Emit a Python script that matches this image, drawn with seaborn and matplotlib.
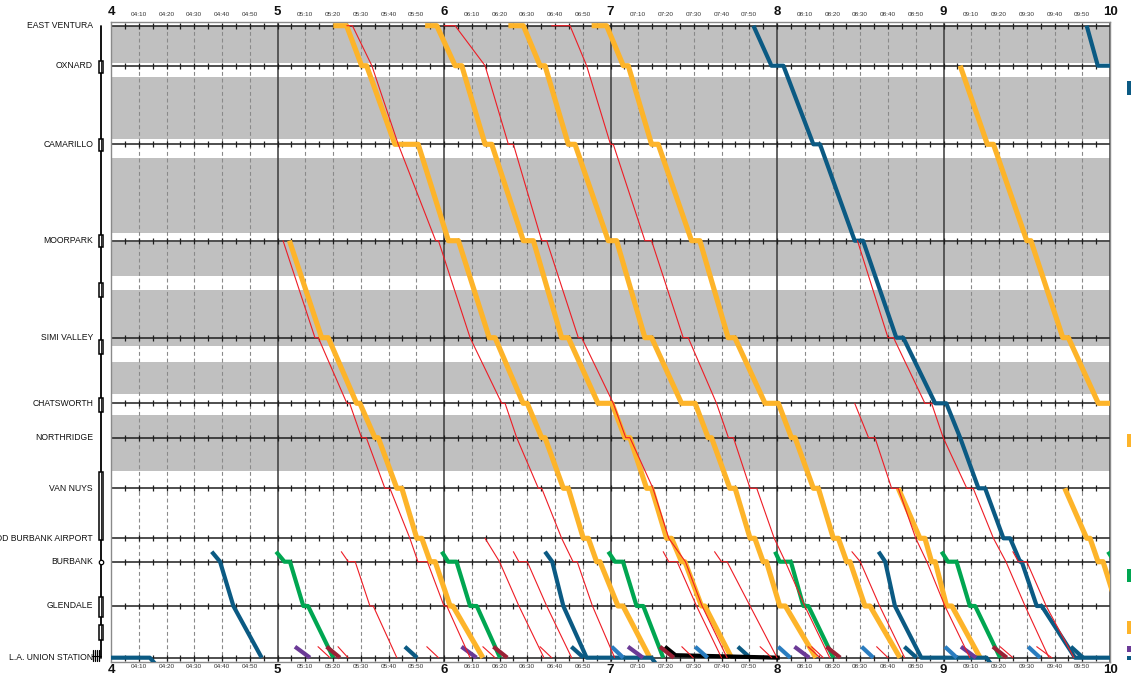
import matplotlib
matplotlib.use("Agg")
import matplotlib.pyplot as plt
import matplotlib.transforms as mtransforms
from matplotlib.patches import Rectangle
import seaborn as sns
import pandas as pd
import numpy as np

# ---------------- data ----------------
station_names = ["EAST VENTURA", "OXNARD", "CAMARILLO", "MOORPARK", "SIMI VALLEY",
                 "CHATSWORTH", "NORTHRIDGE", "VAN NUYS", "HOLLYWOOD BURBANK AIRPORT",
                 "BURBANK", "GLENDALE", "L.A. UNION STATION"]
station_codes = ["EV", "OX", "CA", "MP", "SV", "CH", "NR", "VN", "BA", "BU", "GL", "LA"]
station_miles = [63.2, 59.2, 51.34, 41.7, 32.0, 25.44, 22.0, 16.94, 11.94, 9.6, 5.17, 0.0]
junction_codes = ["BJ", "LJ", "LP", "LS"]
junction_miles = [10.6, 1.1, 0.25, -0.8]

shade_bands = [(59.47, 63.13), (51.87, 58.07), (42.47, 49.97), (38.2, 41.53),
               (31.13, 36.73), (26.37, 29.57), (18.63, 24.3)]
siding_bands = [(58.47, 59.67), (50.67, 51.87), (41.07, 42.27), (36.07, 37.47),
                (30.37, 31.77), (24.57, 25.97), (11.77, 18.57), (4.07, 6.07), (1.77, 3.27)]

hour_ticks = [4, 5, 6, 7, 8, 9, 10]

# orange trains
orange_a = [("MP", "5:04.3"), ("SV", "5:15.9"), ("SV", "5:18.3"), ("CH", "5:28.5"), ("CH", "5:29.7"),
            ("NR", "5:35.1"), ("NR", "5:36.3"), ("VN", "5:43.0"), ("VN", "5:44.8"), ("BA", "5:50.2"),
            ("BA", "5:52.0"), ("BU", "5:55.0"), ("BU", "5:56.8"), ("GL", "6:02.2"), ("GL", "6:03.2"),
            ("LA", "6:14.0")]
orange_b = [("EV", "5:20.1"), ("EV", "5:24.9"), ("OX", "5:30.3"), ("OX", "5:32.1"), ("CA", "5:42.3"),
            ("CA", "5:50.7"), ("MP", "6:01.6"), ("MP", "6:05.2"), ("SV", "6:16.3"), ("SV", "6:18.4"),
            ("CH", "6:28.5"), ("CH", "6:30.0"), ("NR", "6:35.2"), ("NR", "6:36.4"), ("VN", "6:43.0"),
            ("VN", "6:44.8"), ("BA", "6:50.2"), ("BA", "6:52.0"), ("BU", "6:55.0"), ("BU", "6:56.2"),
            ("GL", "7:02.7"), ("GL", "7:04.5"), ("LA", "7:14.2")]
orange_c = [("EV", "5:53.2"), ("EV", "5:57.4"), ("OX", "6:04.0"), ("OX", "6:06.4"), ("CA", "6:14.8"),
            ("CA", "6:17.2"), ("MP", "6:28.6"), ("MP", "6:32.2"), ("SV", "6:42.4"), ("SV", "6:44.8"),
            ("CH", "6:55.5"), ("CH", "7:00.5"), ("NR", "7:05.2"), ("NR", "7:07.0"), ("VN", "7:13.0"),
            ("VN", "7:14.8"), ("BA", "7:20.2"), ("BA", "7:22.0"), ("BU", "7:25.6"), ("BU", "7:26.8"),
            ("GL", "7:32.8"), ("GL", "7:34.0"), ("LA", "7:43.6")]
orange_d = [("EV", "6:23.2"), ("EV", "6:28.6"), ("OX", "6:34.6"), ("OX", "6:36.4"), ("CA", "6:44.8"),
            ("CA", "6:47.2"), ("MP", "6:59.2"), ("MP", "7:02.2"), ("SV", "7:12.4"), ("SV", "7:14.8"),
            ("CH", "7:25.6"), ("CH", "7:30.5"), ("NR", "7:35.2"), ("NR", "7:36.4"), ("VN", "7:43.0"),
            ("VN", "7:44.9"), ("BA", "7:50.3"), ("BA", "7:52.0"), ("BU", "7:55.0"), ("BU", "7:56.2"),
            ("GL", "8:01.0"), ("GL", "8:03.0"), ("LA", "8:14.0")]
orange_e = [("EV", "6:53.2"), ("EV", "6:58.6"), ("OX", "7:04.6"), ("OX", "7:06.4"), ("CA", "7:14.8"),
            ("CA", "7:17.2"), ("MP", "7:29.2"), ("MP", "7:32.2"), ("SV", "7:42.4"), ("SV", "7:44.8"),
            ("CH", "7:55.7"), ("CH", "8:00.5"), ("NR", "8:05.2"), ("NR", "8:06.5"), ("VN", "8:13.1"),
            ("VN", "8:14.9"), ("BA", "8:20.3"), ("BA", "8:22.1"), ("BU", "8:25.1"), ("BU", "8:26.3"),
            ("GL", "8:31.7"), ("GL", "8:33.5"), ("LA", "8:44.3")]
orange_f = [("VN", "8:43.7"), ("BA", "8:51.5"), ("BA", "8:53.3"), ("BU", "8:55.7"), ("BU", "8:57.0"),
            ("GL", "9:01.1"), ("GL", "9:03.0"), ("LA", "9:13.2")]
orange_g = [("VN", "9:43.7"), ("BA", "9:51.6"), ("BA", "9:52.8"), ("BU", "9:55.7"), ("BU", "9:57.5"),
            ("GL", "10:02.5"), ("GL", "10:04.0"), ("LA", "10:14.0")]
orange_h = [("OX", "9:06.0"), ("CA", "9:15.8"), ("CA", "9:18.0"), ("MP", "9:30.0"), ("MP", "9:31.5"),
            ("SV", "9:43.0"), ("SV", "9:45.0"), ("CH", "9:55.8"), ("CH", "10:02.0"), ("NR", "10:07.0")]

# dark blue trains
navy_a = [("LA", "4:00.0"), ("LA", "4:14.0"), ("LS", "4:16.5")]
navy_b = [("BJ", "4:36.3"), ("BU", "4:39.3"), ("GL", "4:44.1"), ("LA", "4:54.3")]
navy_c = [("BJ", "6:36.4"), ("BU", "6:39.0"), ("GL", "6:43.0"), ("LA", "6:51.4"), ("LA", "7:14.8"),
          ("LS", "7:16.8")]
navy_d = [("EV", "7:51.5"), ("OX", "7:58.0"), ("OX", "8:02.3"), ("CA", "8:13.1"), ("CA", "8:15.5"),
          ("MP", "8:28.0"), ("MP", "8:31.0"), ("SV", "8:43.0"), ("SV", "8:45.5"), ("CH", "8:57.0"),
          ("CH", "9:01.0"), ("NR", "9:06.0"), ("VN", "9:12.6"), ("VN", "9:15.0"), ("BA", "9:21.6"),
          ("BA", "9:24.0"), ("BU", "9:27.6"), ("BU", "9:28.2"), ("GL", "9:33.6"), ("GL", "9:35.4"),
          ("LA", "9:47.4"), ("LA", "10:05.0")]
navy_e = [("BJ", "8:36.6"), ("BU", "8:39.0"), ("GL", "8:42.5"), ("LA", "8:52.0"), ("LA", "9:15.5"),
          ("LS", "9:17.5")]
navy_f = [("EV", "9:51.6"), ("OX", "9:55.6"), ("OX", "10:02.0")]
navy_s5 = [("LJ", "5:45.9"), ("LA", "5:50.3")]
navy_s6 = [("LJ", "6:45.9"), ("LA", "6:50.3")]
navy_s7 = [("LJ", "7:45.9"), ("LA", "7:50.3")]
navy_s8 = [("LJ", "8:45.9"), ("LA", "8:50.3")]
navy_s9 = [("LJ", "9:45.9"), ("LA", "9:50.3")]

# green trains
green_a = [("BJ", "4:59.5"), ("BU", "5:02.5"), ("BU", "5:04.5"), ("GL", "5:09.3"), ("GL", "5:11.0"), ("LA", "5:20.1")]
green_b = [("BJ", "5:59.2"), ("BU", "6:01.5"), ("BU", "6:04.5"), ("GL", "6:09.4"), ("GL", "6:11.8"), ("LA", "6:20.2")]
green_c = [("BJ", "6:59.2"), ("BU", "7:01.6"), ("BU", "7:04.5"), ("GL", "7:09.4"), ("GL", "7:11.8"), ("LA", "7:19.0")]
green_d = [("BJ", "7:59.3"), ("BU", "8:01.0"), ("BU", "8:05.0"), ("GL", "8:09.5"), ("GL", "8:11.3"), ("LA", "8:20.3")]
green_e = [("BJ", "8:59.3"), ("BU", "9:01.6"), ("BU", "9:04.7"), ("GL", "9:09.5"), ("GL", "9:11.4"), ("LA", "9:20.4")]
green_f = [("BJ", "9:59.3"), ("BU", "10:01.6")]

# short approaches into Union Station (start, arrival)
purple_trips = [("5:06.3", "5:11.7"), ("6:06.3", "6:11.7"), ("7:06.3", "7:11.7"), ("8:06.3", "8:11.6"), ("9:06.3", "9:11.7")]
maroon_trips = [("5:17.7", "5:22.5"), ("6:17.8", "6:22.8"), ("7:17.8", "7:22.8"), ("8:17.8", "8:22.8"), ("9:17.8", "9:22.8")]
lightblue_trips = [("7:00.4", "7:04.6"), ("7:30.5", "7:35.0"), ("8:00.4", "8:04.8"), ("8:30.5", "8:34.7"),
                   ("9:00.5", "9:04.8"), ("9:30.5", "9:34.8")]
red_short_trips = [("5:14.6", "5:18.9"), ("5:21.8", "5:25.4"), ("5:53.8", "5:58.0"), ("6:14.0", "6:18.4"),
                   ("6:34.6", "6:38.8"), ("7:25.7", "7:29.8"), ("7:53.9", "7:58.1"), ("8:11.2", "8:15.5"),
                   ("8:12.5", "8:16.7"), ("8:35.9", "8:40.0"), ("9:20.4", "9:25.0"), ("9:33.6", "9:39.0")]
black_a = [("LJ", "7:19.6"), ("LP", "7:23.4"), ("LA", "8:01.0")]

# red (thin) trains
red_a = [("MP", "5:02.0"), ("SV", "5:13.5"), ("SV", "5:14.7"), ("CH", "5:25.0"), ("CH", "5:26.0"),
         ("NR", "5:30.3"), ("NR", "5:32.0"), ("VN", "5:38.7"), ("VN", "5:40.5"), ("BA", "5:47.7"),
         ("BU", "5:50.6"), ("BU", "5:54.0"), ("GL", "6:00.0"), ("GL", "6:01.0"), ("LA", "6:09.4")]
red_b = [("EV", "5:25.0"), ("EV", "5:27.0"), ("OX", "5:34.0"), ("CA", "5:43.5"), ("MP", "5:57.0"),
         ("MP", "5:58.0"), ("SV", "6:09.4"), ("CH", "6:20.8"), ("CH", "6:22.0"), ("NR", "6:26.2"),
         ("VN", "6:34.0"), ("VN", "6:35.2"), ("BA", "6:42.4"), ("BU", "6:46.5"), ("BU", "6:48.0"),
         ("GL", "6:53.5"), ("LA", "7:01.5")]
red_c = [("EV", "6:00.0"), ("EV", "6:04.0"), ("OX", "6:14.8"), ("CA", "6:23.2"), ("CA", "6:25.0"),
         ("MP", "6:35.2"), ("MP", "6:37.0"), ("SV", "6:48.4"), ("SV", "6:49.6"), ("CH", "7:01.0"),
         ("NR", "7:05.5"), ("NR", "7:07.0"), ("VN", "7:15.3"), ("BA", "7:21.0"), ("BU", "7:27.0"),
         ("GL", "7:33.0"), ("LA", "7:42.0")]
red_d = [("EV", "6:38.8"), ("EV", "6:45.4"), ("OX", "6:51.4"), ("CA", "7:00.0"), ("CA", "7:01.0"),
         ("MP", "7:12.4"), ("MP", "7:14.8"), ("SV", "7:26.2"), ("SV", "7:28.0"), ("CH", "7:38.2"),
         ("NR", "7:42.5"), ("NR", "7:44.3"), ("VN", "7:50.3"), ("VN", "7:52.7"), ("BA", "7:59.0"),
         ("BU", "8:03.0"), ("GL", "8:10.0"), ("LA", "8:19.0")]
red_e = [("CH", "8:28.0"), ("NR", "8:33.0"), ("NR", "8:35.3"), ("VN", "8:41.3"), ("VN", "8:43.7"),
         ("BA", "8:50.0"), ("BU", "8:54.0"), ("GL", "9:00.5"), ("LA", "9:09.5")]
red_f = [("MP", "8:29.0"), ("SV", "8:40.0"), ("SV", "8:42.0"), ("CH", "8:53.3"), ("CH", "8:55.7"),
         ("NR", "8:59.9"), ("VN", "9:08.4"), ("VN", "9:10.7"), ("BA", "9:18.0"), ("BU", "9:22.5"),
         ("GL", "9:29.4"), ("LA", "9:38.0")]
red_g = [("BJ", "5:23.0"), ("BU", "5:25.5"), ("BU", "5:28.0"), ("GL", "5:33.3"), ("GL", "5:34.5"), ("LA", "5:43.0")]
red_h = [("BA", "6:14.8"), ("BU", "6:20.0"), ("GL", "6:27.0"), ("LA", "6:36.0")]
red_i = [("BJ", "6:25.0"), ("BU", "6:27.0"), ("BU", "6:30.0"), ("GL", "6:37.0"), ("LA", "6:46.0")]
red_j = [("BJ", "7:19.0"), ("BU", "7:21.0"), ("BU", "7:24.0"), ("GL", "7:31.0"), ("LA", "7:40.0")]
red_k = [("BJ", "7:37.5"), ("BU", "7:40.0"), ("BU", "7:42.0"), ("GL", "7:50.3"), ("LA", "8:00.0")]
red_l = [("BJ", "8:27.0"), ("BU", "8:30.0"), ("GL", "8:37.0"), ("LA", "8:46.0")]
red_m = [("BJ", "9:25.0"), ("BU", "9:27.0"), ("BU", "9:30.0"), ("GL", "9:37.0"), ("LA", "9:47.0")]

service_trains = {
    "orange": [orange_a, orange_b, orange_c, orange_d, orange_e, orange_f, orange_g, orange_h],
    "navy": [navy_a, navy_b, navy_c, navy_d, navy_e, navy_f, navy_s5, navy_s6, navy_s7, navy_s8, navy_s9],
    "green": [green_a, green_b, green_c, green_d, green_e, green_f],
    "black": [black_a],
    "red": [red_a, red_b, red_c, red_d, red_e, red_f, red_g, red_h, red_i, red_j, red_k, red_l, red_m],
}
short_trips = {"purple": purple_trips, "maroon": maroon_trips, "lightblue": lightblue_trips,
               "red": red_short_trips}

palette = {"orange": "#FDB42A", "navy": "#0B5A83", "green": "#00A651", "black": "#000000",
           "purple": "#6B3A97", "maroon": "#9A2236", "lightblue": "#2A7DC0", "red": "#EE1C25"}
widths = {"orange": 3.7, "navy": 3.0, "green": 3.0, "black": 3.0, "purple": 3.0, "maroon": 3.0,
          "lightblue": 3.0, "red": 0.8}

# ---------------- build table ----------------
pos = dict(zip(station_codes, station_miles))
pos.update(dict(zip(junction_codes, junction_miles)))


def hm(s):
    h, m = s.split(":")
    return int(h) + float(m) / 60.0


rows = []
tid = 0
for svc, trains in service_trains.items():
    for tr in trains:
        for code, t in tr:
            rows.append({"train": tid, "service": svc, "t": hm(t), "mile": pos[code]})
        tid += 1
for svc, trips in short_trips.items():
    for t0, t1 in trips:
        rows.append({"train": tid, "service": svc, "t": hm(t0), "mile": pos["LJ"]})
        rows.append({"train": tid, "service": svc, "t": hm(t1), "mile": pos["LA"]})
        tid += 1
df = pd.DataFrame(rows)

# ---------------- figure ----------------
sns.set_theme(style="white")
plt.rcParams['font.family'] = ['Liberation Sans', 'DejaVu Sans']

W, H = 1131, 679
fig = plt.figure(figsize=(W / 100, H / 100), dpi=100)
x0, x1, ytop, ybot = 111, 1110, 22.3, 661.7
ax = fig.add_axes([x0 / W, 1 - ybot / H, (x1 - x0) / W, (ybot - ytop) / H])
ax.set_xlim(4, 10)
ax.set_ylim(-0.4, 63.54)

for lo, hi in shade_bands:
    ax.axhspan(lo, hi, color="#C0C0C0", lw=0, zorder=0)

for k in range(4 * 6, 10 * 6 + 1):
    xv = k / 6.0
    if k % 6 == 0:
        ax.axvline(xv, color="#3a3a3a", lw=1.1, zorder=1)
    else:
        ax.axvline(xv, color="#8a8a8a", lw=0.8, ls=(0, (3.5, 2.5)), zorder=1)

tick_x = np.arange(4 * 12 + 1, 10 * 12) / 12.0
for m in station_miles:
    ax.axhline(m, color="#1e1e1e", lw=1.1, zorder=1.5)
    ax.plot(tick_x, np.full(tick_x.shape, m), ls="none", marker="|", ms=4.5, mew=0.9,
            color="#1e1e1e", zorder=1.6)

thick = df[df.service != "red"]
thin = df[df.service == "red"]
sns.lineplot(data=thick, x="t", y="mile", hue="service", size="service", units="train",
             estimator=None, sort=False, palette=palette, sizes=widths, legend=False, ax=ax)
sns.lineplot(data=thin, x="t", y="mile", hue="service", size="service", units="train",
             estimator=None, sort=False, palette=palette, sizes=widths, legend=False, ax=ax)
for ln in ax.lines:
    if ln.get_linewidth() >= 2:
        ln.set_solid_capstyle("butt")
        ln.set_solid_joinstyle("round")
        ln.set_zorder(3)
    elif ln.get_linewidth() < 1.0 and ln.get_linestyle() == "-":
        ln.set_zorder(3.5)

for sp in ax.spines.values():
    sp.set_color("#8a8a8a")
    sp.set_linewidth(1.0)

ax.set_xticks([])
ax.set_yticks([])
ax.set_xlabel("")
ax.set_ylabel("")

trans_x = mtransforms.blended_transform_factory(ax.transData, ax.transAxes)
trans_y = mtransforms.blended_transform_factory(ax.transAxes, ax.transData)
for h in hour_ticks:
    ax.text(h, 1.0165, str(h), transform=trans_x, ha="center", va="center",
            fontsize=9.5, fontweight="bold", color="#111111")
    ax.text(h, -0.0135, str(h), transform=trans_x, ha="center", va="center",
            fontsize=9.5, fontweight="bold", color="#111111")
for k in range(4 * 6, 10 * 6):
    if k % 6 == 0:
        continue
    lab = "%02d:%02d" % (k // 6, (k % 6) * 10)
    ax.text(k / 6.0, 1.0125, lab, transform=trans_x, ha="center", va="center", fontsize=4.6, color="#333333")
    ax.text(k / 6.0, -0.008, lab, transform=trans_x, ha="center", va="center", fontsize=4.6, color="#333333")

for name, m in zip(station_names, station_miles):
    ax.text(-0.018, m, name, transform=trans_y, ha="right", va="center", fontsize=6.25, color="#111111",
            clip_on=False)

# track schematic at left
sx = (101 - x0) / (x1 - x0)
ax.plot([sx, sx], [0.0, 63.2], transform=trans_y, color="black", lw=1.3, clip_on=False, zorder=5)
for lo, hi in siding_bands:
    ax.add_patch(Rectangle((sx - 0.0024, lo), 0.0048, hi - lo, transform=trans_y, facecolor="white",
                           edgecolor="black", lw=1.1, clip_on=False, zorder=6))
    ax.plot([sx, sx], [lo, hi], transform=trans_y, color="black", lw=0.6, clip_on=False, zorder=6.5)
ax.plot([sx], [9.6], transform=trans_y, marker="o", ms=3.2, mfc="white", mec="black", mew=0.9,
        clip_on=False, zorder=7)
for j in range(4):
    xx = (92.5 + 2 * j - x0) / (x1 - x0)
    ax.plot([xx, xx], [-0.35, 0.75], transform=trans_y, color="black", lw=0.9, clip_on=False, zorder=6)
ax.plot([(92 - x0) / (x1 - x0), sx], [0.2, 0.2], transform=trans_y, color="black", lw=0.8,
        clip_on=False, zorder=6)

# clipped legend keys at right edge
legend_keys = [("navy", 81, 95), ("orange", 434, 447), ("green", 569, 582), ("orange", 621, 634),
               ("purple", 646, 652), ("navy", 656, 660)]
for svc, ya, yb in legend_keys:
    fig.patches.append(Rectangle((1127 / W, 1 - yb / H), 6 / W, (yb - ya) / H, transform=fig.transFigure,
                                 facecolor=palette[svc], edgecolor="none"))

fig.savefig("out.png", dpi=100)
